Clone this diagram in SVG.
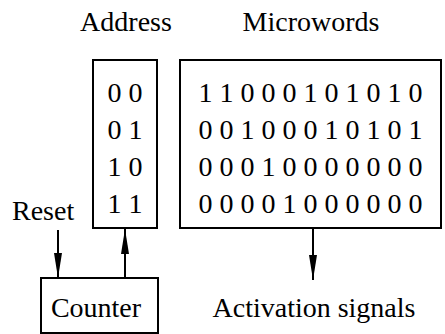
<svg xmlns="http://www.w3.org/2000/svg" width="445" height="334" viewBox="0 0 445 334">
<style>
.box{fill:#fff;stroke:#000;stroke-width:2}
.t{font-family:"Liberation Serif","Times New Roman",serif;font-size:28px;fill:#000}
.m{text-anchor:middle}
.ln{stroke:#000;stroke-width:2;fill:none}
</style>
<defs>
<marker id="ah" markerUnits="userSpaceOnUse" markerWidth="26" markerHeight="10" viewBox="0 0 26 10" refX="25" refY="5" orient="auto">
<path d="M25 5 L0 1 L0 9 Z" fill="#000"/>
</marker>
</defs>
<rect width="445" height="334" fill="#fff"/>
<text class="t m" x="126" y="31">Address</text>
<text class="t m" x="311" y="31">Microwords</text>
<g id="address">
<rect class="box" x="93" y="60" width="64" height="168"/>
<text class="t m" x="125" y="102">0 0</text>
<text class="t m" x="125" y="139">0 1</text>
<text class="t m" x="125" y="176">1 0</text>
<text class="t m" x="125" y="213">1 1</text>
</g>
<g id="microwords">
<rect class="box" x="180" y="60" width="261" height="168"/>
<text class="t m" x="310.5" y="102">1 1 0 0 0 1 0 1 0 1 0</text>
<text class="t m" x="310.5" y="139">0 0 1 0 0 0 1 0 1 0 1</text>
<text class="t m" x="310.5" y="176">0 0 0 1 0 0 0 0 0 0 0</text>
<text class="t m" x="310.5" y="213">0 0 0 0 1 0 0 0 0 0 0</text>
</g>
<g id="counter">
<rect class="box" x="41" y="278" width="117" height="55"/>
<text class="t m" x="96" y="317">Counter</text>
</g>
<g id="reset">
<text class="t" x="12" y="220">Reset</text>
</g>
<g id="activation">
<text class="t m" x="314" y="317">Activation signals</text>
</g>
<g id="connectors">
<line class="ln" x1="58" y1="230" x2="58" y2="278" marker-end="url(#ah)"/>
<line class="ln" x1="125" y1="278" x2="125" y2="229" marker-end="url(#ah)"/>
<line class="ln" x1="313" y1="228" x2="313" y2="280" marker-end="url(#ah)"/>
</g>
</svg>
